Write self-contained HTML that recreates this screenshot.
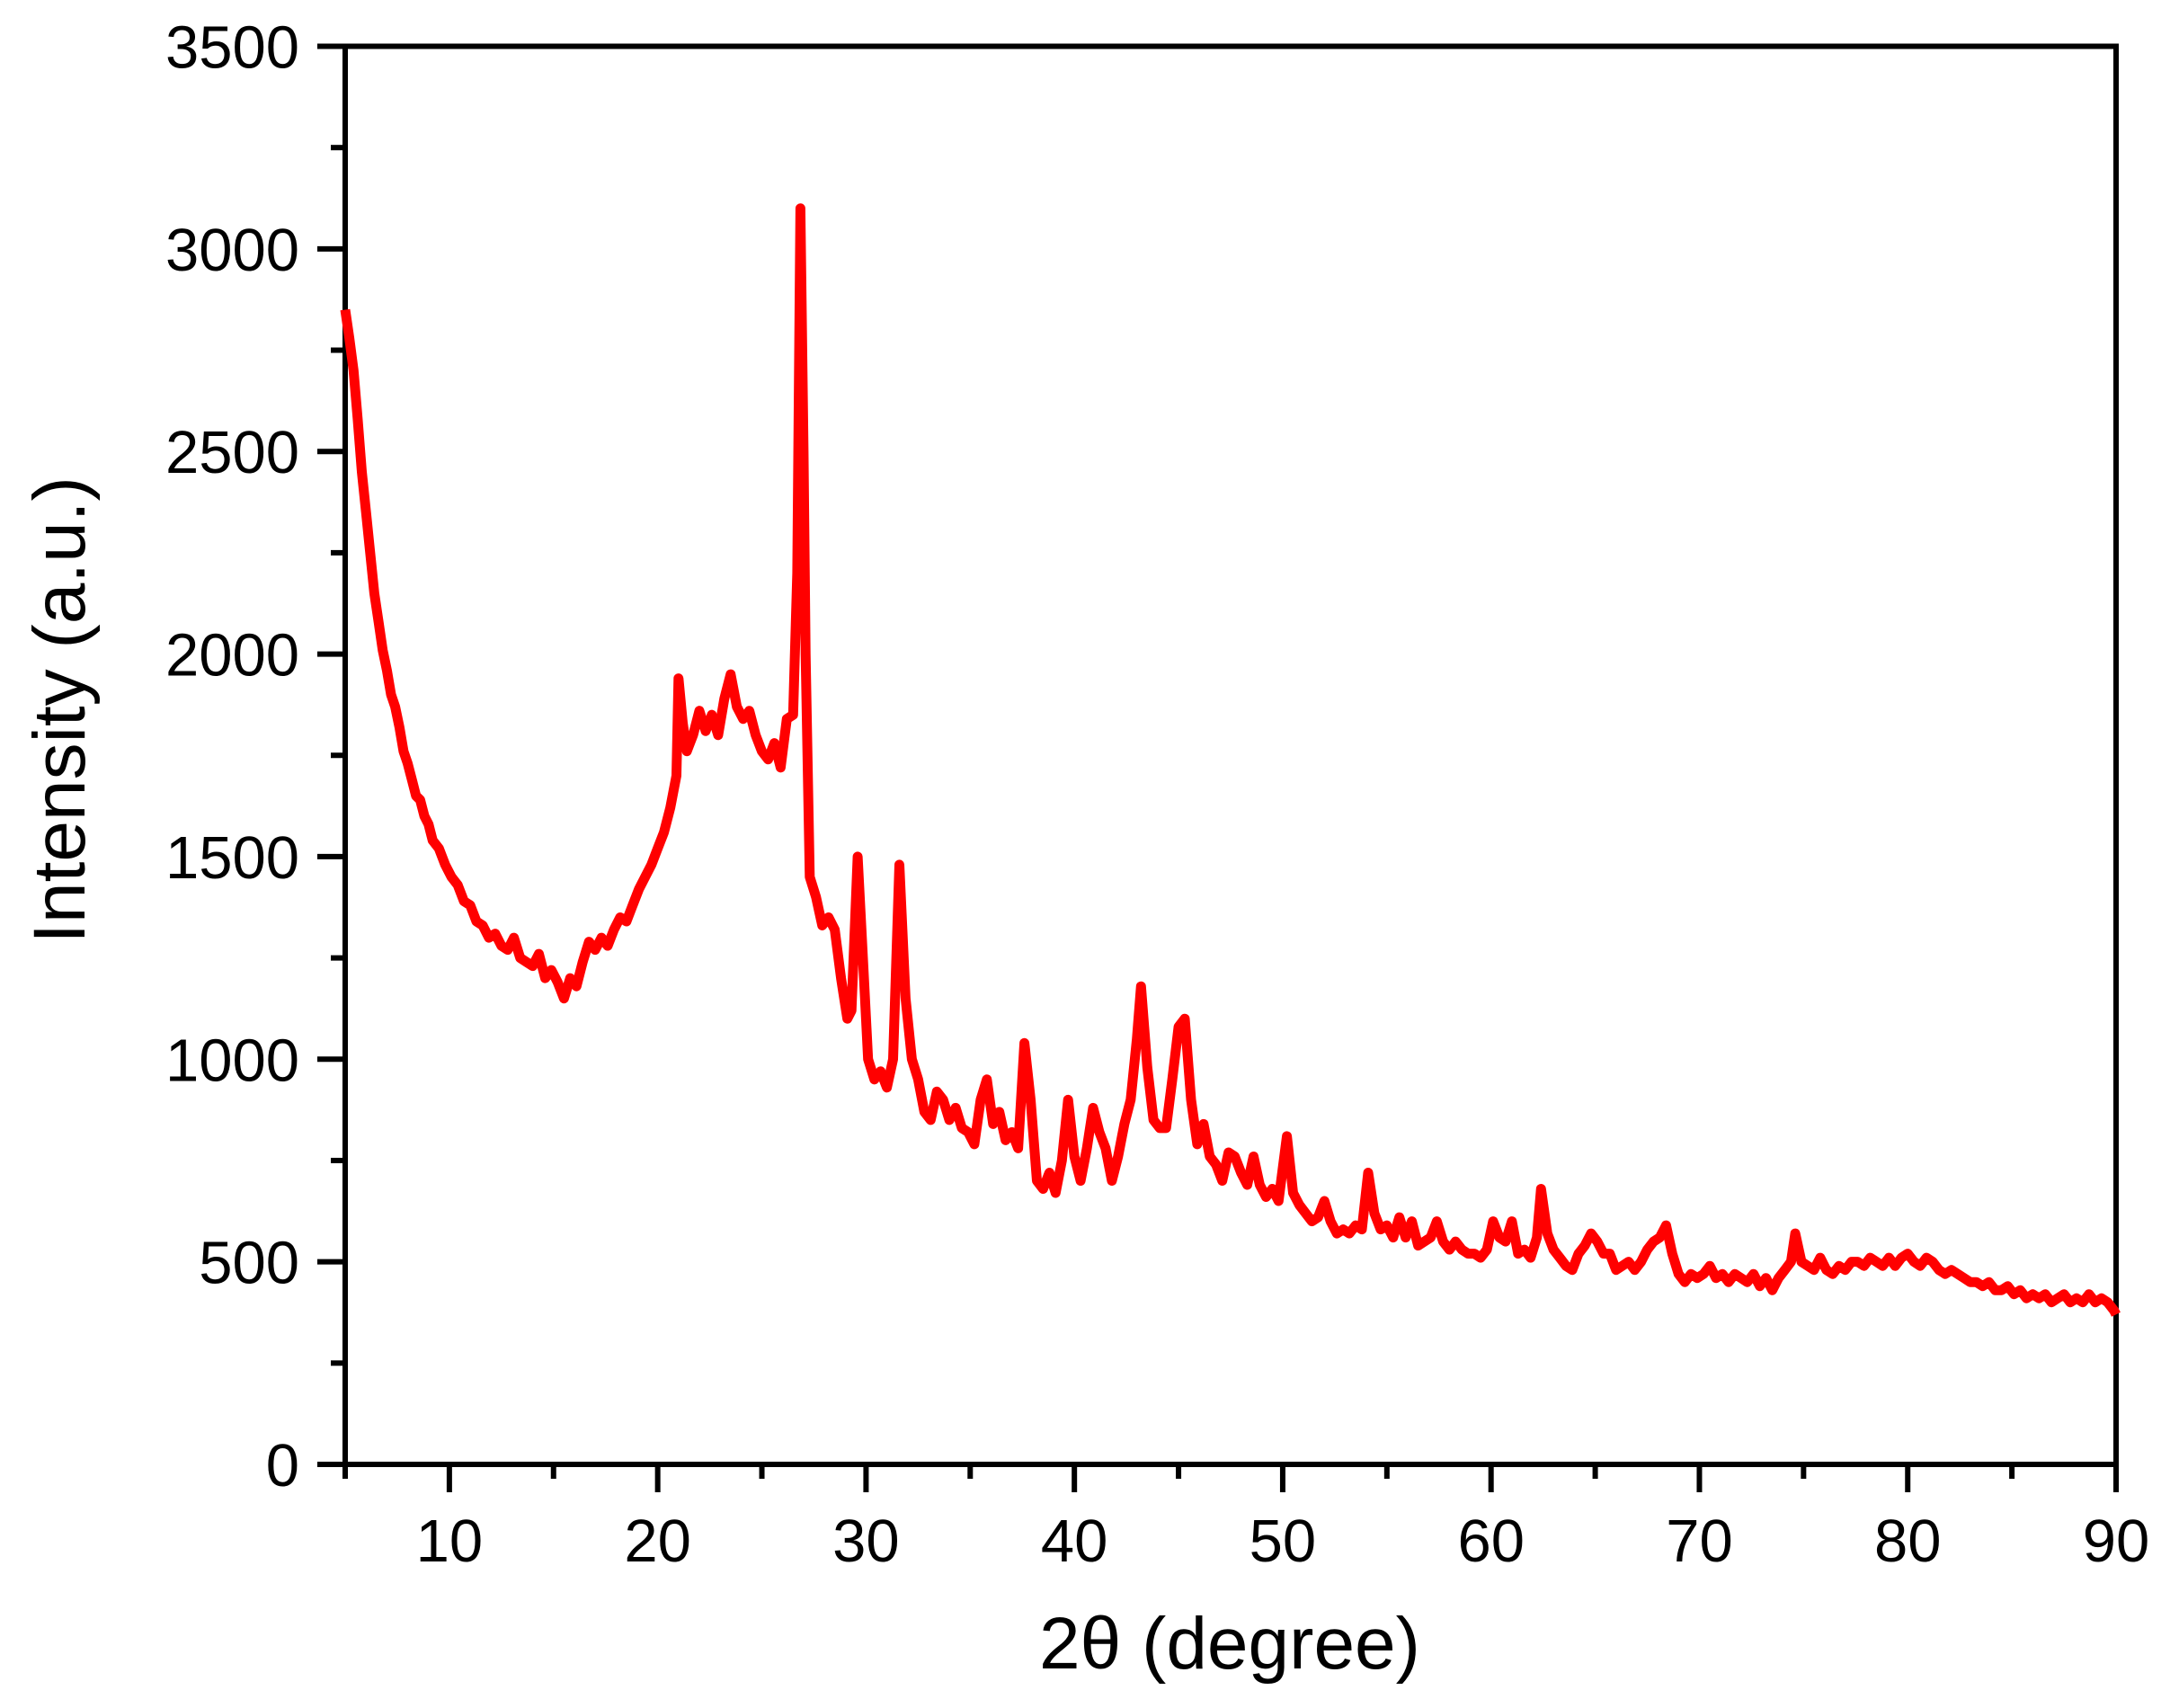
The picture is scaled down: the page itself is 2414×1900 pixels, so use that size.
<!DOCTYPE html>
<html><head><meta charset="utf-8"><style>
html,body{margin:0;padding:0;background:#fff;}
svg{display:block;font-family:"Liberation Sans",Arial,sans-serif;}
</style></head><body>
<svg id="chart" width="2414" height="1900" viewBox="0 0 2414 1900" xmlns="http://www.w3.org/2000/svg">
<g id="axes"></g>
<path id="series" fill="none" stroke="#ff0000" stroke-width="11" stroke-linejoin="round"/>
<text x="1368" y="1856" font-size="82" text-anchor="middle">2θ (degree)</text>
<text transform="translate(94,790) rotate(-90)" font-size="82" text-anchor="middle">Intensity (a.u.)</text>
</svg>
<script>
const xTicks=[10,20,30,40,50,60,70,80,90];
const yTicks=[0,500,1000,1500,2000,2500,3000,3500];
const twoTheta=[5.0,5.2,5.4,5.6,5.8,6.0,6.2,6.4,6.6,6.8,7.0,7.2,7.4,7.6,7.8,8.0,8.2,8.4,8.6,8.8,9.0,9.2,9.5,9.8,10.1,10.4,10.7,11.0,11.3,11.6,11.9,12.2,12.5,12.8,13.1,13.4,13.7,14.0,14.3,14.6,14.9,15.2,15.5,15.8,16.1,16.4,16.7,17.0,17.3,17.6,17.9,18.2,18.5,18.8,19.1,19.4,19.7,20.0,20.3,20.6,20.9,21.0,21.2,21.4,21.7,22.0,22.3,22.6,22.9,23.2,23.5,23.8,24.1,24.4,24.7,25.0,25.3,25.6,25.9,26.2,26.5,26.7,26.85,27.0,27.1,27.3,27.6,27.9,28.2,28.5,28.8,29.1,29.3,29.6,29.9,30.1,30.4,30.7,31.0,31.3,31.6,31.9,32.2,32.5,32.8,33.1,33.4,33.7,34.0,34.3,34.6,34.9,35.2,35.5,35.8,36.1,36.4,36.7,37.0,37.3,37.6,37.9,38.2,38.5,38.8,39.1,39.4,39.7,40.0,40.3,40.6,40.9,41.2,41.5,41.8,42.1,42.4,42.7,43.0,43.2,43.5,43.8,44.1,44.4,44.7,45.0,45.3,45.6,45.9,46.2,46.5,46.8,47.1,47.4,47.7,48.0,48.3,48.6,48.9,49.2,49.5,49.8,50.2,50.5,50.8,51.1,51.4,51.7,52.0,52.3,52.6,52.9,53.2,53.5,53.8,54.1,54.4,54.7,55.0,55.3,55.6,55.9,56.2,56.5,56.8,57.1,57.4,57.7,58.0,58.3,58.6,58.9,59.2,59.5,59.8,60.1,60.4,60.7,61.0,61.3,61.6,61.9,62.2,62.4,62.7,63.0,63.3,63.6,63.9,64.2,64.5,64.8,65.1,65.4,65.7,66.0,66.3,66.6,66.9,67.2,67.5,67.8,68.1,68.4,68.7,69.0,69.3,69.6,69.9,70.2,70.5,70.8,71.1,71.4,71.7,72.0,72.3,72.6,72.9,73.2,73.5,73.8,74.1,74.4,74.6,74.9,75.2,75.5,75.8,76.1,76.4,76.7,77.0,77.3,77.6,77.9,78.2,78.5,78.8,79.1,79.4,79.7,80.0,80.3,80.6,80.9,81.2,81.5,81.8,82.1,82.4,82.7,83.0,83.3,83.6,83.9,84.2,84.5,84.8,85.1,85.4,85.7,86.0,86.3,86.6,86.9,87.2,87.5,87.8,88.1,88.4,88.7,89.0,89.3,89.6,89.9,90.0];
const intensity=[2850,2780,2700,2580,2450,2350,2250,2150,2080,2010,1960,1900,1870,1820,1760,1730,1690,1650,1640,1600,1580,1540,1520,1480,1450,1430,1390,1380,1340,1330,1300,1310,1280,1270,1300,1250,1240,1230,1260,1200,1220,1190,1150,1200,1180,1240,1290,1270,1300,1280,1320,1350,1340,1380,1420,1450,1480,1520,1560,1620,1700,1940,1830,1760,1800,1860,1810,1850,1800,1890,1950,1870,1840,1860,1800,1760,1740,1780,1720,1840,1850,2200,3100,2500,2000,1450,1400,1330,1350,1320,1200,1100,1120,1500,1200,1000,950,970,930,1000,1480,1150,1000,950,870,850,920,900,850,880,830,820,790,900,950,840,870,800,820,780,1040,900,700,680,720,670,750,900,760,700,780,880,820,780,700,760,840,900,1050,1180,980,850,830,830,950,1080,1100,900,790,840,760,740,700,770,760,720,690,760,690,660,680,650,810,670,640,620,600,610,650,600,570,580,570,590,580,720,620,580,590,560,610,560,600,540,550,560,600,550,530,550,530,520,520,510,530,600,560,550,600,520,530,510,560,680,570,530,510,490,480,520,540,570,550,520,520,480,490,500,480,500,530,550,560,590,520,470,450,470,460,470,490,460,470,450,470,460,450,470,440,460,430,460,480,500,570,500,490,480,510,480,470,490,480,500,500,490,510,500,490,510,490,510,520,500,490,510,500,480,470,480,470,460,450,450,440,450,430,430,440,420,430,410,420,410,420,400,410,420,400,410,400,420,400,410,400,380,370];

const X0=384,X1=2354,Y0=1629,Y1=51.5;
const xScale=v=>X0+(v-5)/(90-5)*(X1-X0);
const yScale=v=>Y0-(v/3500)*(Y0-Y1);
const NS="http://www.w3.org/2000/svg";
const axes=document.getElementById('axes');
function mk(tag,attrs){const e=document.createElementNS(NS,tag);for(const k in attrs)e.setAttribute(k,attrs[k]);axes.appendChild(e);return e;}

let frame=mk('rect',{x:X0,y:Y1,width:X1-X0,height:Y0-Y1,fill:'none',stroke:'#000','stroke-width':6});



for(let v=5;v<=90;v+=5){
  const major=(v%10===0);
  const t=mk('line',{x1:xScale(v),x2:xScale(v),y1:Y0,y2:Y0+(major?31:16),stroke:'#000','stroke-width':6});
  
  
}
for(let v=0;v<=3500;v+=250){
  const major=(v%500===0);
  const t=mk('line',{x1:X0-(major?31:16),x2:X0,y1:yScale(v),y2:yScale(v),stroke:'#000','stroke-width':6});
  
  
}
xTicks.forEach(v=>{
  const t=mk('text',{x:xScale(v),y:1737,'font-size':67,'text-anchor':'middle'});
  t.textContent=v;
  
  
});
yTicks.forEach(v=>{
  const t=mk('text',{x:333,y:yScale(v)+24,'font-size':67,'text-anchor':'end'});
  t.textContent=v;
  
  
});
let d='';
twoTheta.forEach((x,i)=>{d+=(i?'L':'M')+xScale(x).toFixed(1)+','+yScale(intensity[i]).toFixed(1);});
document.getElementById('series').setAttribute('d',d);
</script>
</body></html>
